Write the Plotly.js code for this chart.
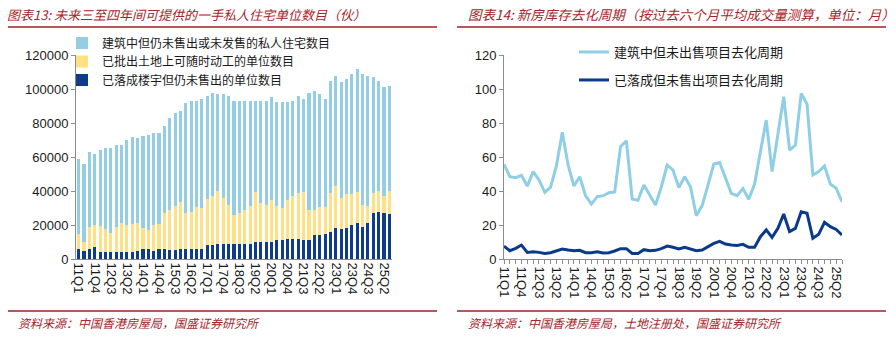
<!DOCTYPE html>
<html>
<head>
<meta charset="utf-8">
<script src="https://cdn.plot.ly/plotly-3.0.1.min.js"></script>
<style>
html,body{margin:0;padding:0;background:#fff;}
#chart{width:896px;height:340px;}
</style>
</head>
<body>
<div id="chart"></div>
<script>
// ---- data ----
const quarters = ['11Q1','11Q2','11Q3','11Q4','12Q1','12Q2','12Q3','12Q4','13Q1','13Q2','13Q3','13Q4',
  '14Q1','14Q2','14Q3','14Q4','15Q1','15Q2','15Q3','15Q4','16Q1','16Q2','16Q3','16Q4',
  '17Q1','17Q2','17Q3','17Q4','18Q1','18Q2','18Q3','18Q4','19Q1','19Q2','19Q3','19Q4',
  '20Q1','20Q2','20Q3','20Q4','21Q1','21Q2','21Q3','21Q4','22Q1','22Q2','22Q3','22Q4',
  '23Q1','23Q2','23Q3','23Q4','24Q1','24Q2','24Q3','24Q4','25Q1','25Q2','25Q3'];

const tickLabels = ['11Q1','11Q4','12Q3','13Q2','14Q1','14Q4','15Q3','16Q2','17Q1','17Q4',
  '18Q3','19Q2','20Q1','20Q4','21Q3','22Q2','23Q1','23Q4','24Q3','25Q2'];

// 已落成楼宇但仍未售出的单位数目
const completedUnsold = [6000,5000,6000,7000,4200,4200,4200,4200,4200,4200,4200,5000,
  6000,6000,5000,6000,6000,5200,5200,6000,6000,6000,6000,6000,
  8200,8200,9000,9000,9000,9000,9000,9000,9000,10000,10000,10000,
  10000,11000,11000,12000,12000,12000,11000,11000,14000,14000,15000,16000,
  18000,17500,18000,20000,21000,19000,21000,27300,27800,27300,26300];

// 已批出土地上可随时动工的单位数目
const landReady = [9000,5200,12800,13000,15000,13300,10900,14800,17000,15800,16600,16400,
  12000,11100,15000,14800,20900,23600,25800,27700,21300,21800,24800,23800,
  26900,28900,31000,27000,22800,16900,18300,19800,22000,29600,23100,21800,
  24700,20200,18800,22700,25100,26600,28600,17800,14800,16800,15800,23000,
  24900,18200,20200,18200,18600,12800,10200,11700,12200,9800,13700];

// 建筑中但仍未售出或未发售的私人住宅数目
const underConstruction = [43800,45700,44200,42000,44900,47600,50000,48000,45800,50000,51200,49600,
  54100,55900,54100,53300,51100,54300,55100,53400,64700,65100,62100,64100,
  60800,60700,56900,60900,64100,67100,65700,64200,62000,53400,59900,61200,
  60400,61000,62400,57500,56000,57300,54500,69100,70000,66300,63300,65900,
  65000,68200,67700,70600,72200,77000,76700,67900,64900,63900,61800];

// 去化周期（月）
const ucCycle = [55.7,48.4,47.8,49.2,42.9,51.4,46.5,39.2,42.3,54.9,74.5,55.3,
  42.9,48.4,37.2,32.3,36.7,37.2,39.0,39.4,66.1,69.6,35.3,34.5,43.5,37.6,31.8,42.5,55.3,52.3,
  42.1,48.4,42.5,25.5,31.4,43.5,55.9,56.8,47.4,38.6,37.2,41.4,35.1,44.1,63.1,81.7,51.4,73.9,
  95.5,64.1,67.0,97.4,91.1,49.4,51.4,54.7,44.1,41.6,33.7];
const doneCycle = [7.6,4.9,6.3,8.2,3.9,4.3,3.9,3.3,3.7,4.7,5.9,5.3,
  4.9,5.1,3.7,3.7,4.3,3.5,3.7,4.7,6.1,6.1,3.3,3.3,5.5,4.9,5.1,6.1,7.6,6.9,
  5.9,6.9,6.1,4.9,5.3,7.3,9.2,10.4,8.8,8.2,8.0,8.6,6.9,6.9,13.1,17.1,12.7,18.0,
  26.5,16.1,18.0,27.8,26.9,12.2,14.5,21.6,19.0,17.4,14.1];

const names = {
  uc: '建筑中但仍未售出或未发售的私人住宅数目',
  land: '已批出土地上可随时动工的单位数目',
  done: '已落成楼宇但仍未售出的单位数目',
  ucCycle: '建筑中但未出售项目去化周期',
  doneCycle: '已落成但未售出项目去化周期'
};
const titles = {
  left: '图表13: 未来三至四年间可提供的一手私人住宅单位数目（伙）',
  right: '图表14: 新房库存去化周期（按过去六个月平均成交量测算，单位：月）',
  srcLeft: '资料来源：中国香港房屋局，国盛证券研究所',
  srcRight: '资料来源：中国香港房屋局，土地注册处，国盛证券研究所'
};

// ---- styling ----
const C = {light:'#93CEE5', yellow:'#FFE085', dark:'#0E3B8B',
  lineLight:'#8FCFE6', lineDark:'#0B3A8A', red:'#A8242A', redLine:'#A31F24', axis:'#8C8C8C', txt:'#1a1a1a'};
const cjk = '"Noto Sans CJK SC", "Noto Sans", sans-serif';
const num = 'Arial, "Liberation Sans", sans-serif';

const W = 896, plotTop = 55, plotBottom = 259, ph = plotBottom - plotTop;
const py = v => (plotBottom - v) / ph;   // pixel y -> paper y
const px = v => v / W;

const tickText = quarters.map(q => tickLabels.includes(q) ? q : '');

const traces = [
  {type:'bar', x:quarters, y:completedUnsold, name:names.done, marker:{color:C.dark}, xaxis:'x', yaxis:'y', legend:'legend4'},
  {type:'bar', x:quarters, y:landReady, name:names.land, marker:{color:C.yellow}, xaxis:'x', yaxis:'y', legend:'legend3'},
  {type:'bar', x:quarters, y:underConstruction, name:names.uc, marker:{color:C.light}, xaxis:'x', yaxis:'y', legend:'legend'},
  {type:'scatter', mode:'lines', x:quarters, y:ucCycle, name:names.ucCycle, line:{color:C.lineLight, width:3},
    xaxis:'x2', yaxis:'y2', legend:'legend2'},
  {type:'scatter', mode:'lines', x:quarters, y:doneCycle, name:names.doneCycle, line:{color:C.lineDark, width:3},
    xaxis:'x2', yaxis:'y2', legend:'legend5'}
];

const xCommon = {
  type:'category', tickmode:'array', tickvals:quarters, ticktext:tickText, tickangle:90,
  tickfont:{family:num, size:13, color:C.txt}, showline:true, linecolor:C.axis, linewidth:1,
  showgrid:false, zeroline:false, fixedrange:true
};
const yCommon = {
  showline:true, linecolor:C.axis, linewidth:1, ticks:'outside', ticklen:4, tickcolor:C.axis,
  tickfont:{family:num, size:13, color:C.txt}, showgrid:false, zeroline:false
};
const leg = (xPix, yPix, fs) => ({x:px(xPix), y:py(yPix), xanchor:'left', yanchor:'middle',
  font:{family:cjk, size:fs, color:C.txt}, bgcolor:'rgba(0,0,0,0)', borderwidth:0});

const layout = {
  width:896, height:340,
  margin:{l:0, r:0, t:plotTop, b:340-plotBottom, pad:0},
  paper_bgcolor:'#fff', plot_bgcolor:'#fff',
  barmode:'stack', bargap:0.42,
  showlegend:true,
  xaxis:Object.assign({}, xCommon, {domain:[px(76), px(392)], anchor:'y', ticks:'', ticklen:0}),
  yaxis:Object.assign({}, yCommon, {anchor:'x', range:[0,120000], dtick:20000, tickformat:'d'}),
  xaxis2:Object.assign({}, xCommon, {domain:[px(504), px(842)], anchor:'y2', ticks:'outside', ticklen:4, tickcolor:C.axis}),
  yaxis2:Object.assign({}, yCommon, {anchor:'x2', range:[0,120], dtick:20}),
  legend:leg(62, 43, 12),
  legend3:leg(62, 61.5, 12),
  legend4:leg(62, 80, 12),
  legend2:leg(574, 52, 13),
  legend5:leg(574, 80, 13),
  annotations:[
    {text:'<i>'+titles.left+'</i>', xref:'paper', yref:'paper', x:px(5), y:py(14), xanchor:'left', yanchor:'middle',
      showarrow:false, font:{family:cjk, size:13, color:C.red}},
    {text:'<i>'+titles.right+'</i>', xref:'paper', yref:'paper', x:px(466), y:py(14), xanchor:'left', yanchor:'middle',
      showarrow:false, font:{family:cjk, size:13.5, color:C.red}},
    {text:'<i>'+titles.srcLeft+'</i>', xref:'paper', yref:'paper', x:px(16), y:py(322), xanchor:'left', yanchor:'middle',
      showarrow:false, font:{family:cjk, size:12, color:C.red}},
    {text:'<i>'+titles.srcRight+'</i>', xref:'paper', yref:'paper', x:px(466), y:py(322), xanchor:'left', yanchor:'middle',
      showarrow:false, font:{family:cjk, size:12, color:C.red}}
  ],
  shapes:[
    {type:'line', xref:'paper', yref:'paper', x0:px(8), x1:px(437), y0:py(27), y1:py(27), line:{color:C.redLine, width:1.5}},
    {type:'line', xref:'paper', yref:'paper', x0:px(457), x1:px(886), y0:py(27), y1:py(27), line:{color:C.redLine, width:1.5}},
    {type:'line', xref:'paper', yref:'paper', x0:px(8), x1:px(437), y0:py(311), y1:py(311), line:{color:C.redLine, width:1.5}},
    {type:'line', xref:'paper', yref:'paper', x0:px(457), x1:px(886), y0:py(311), y1:py(311), line:{color:C.redLine, width:1.5}}
  ]
};

Plotly.newPlot('chart', traces, layout, {staticPlot:true, displayModeBar:false});
</script>
</body>
</html>
